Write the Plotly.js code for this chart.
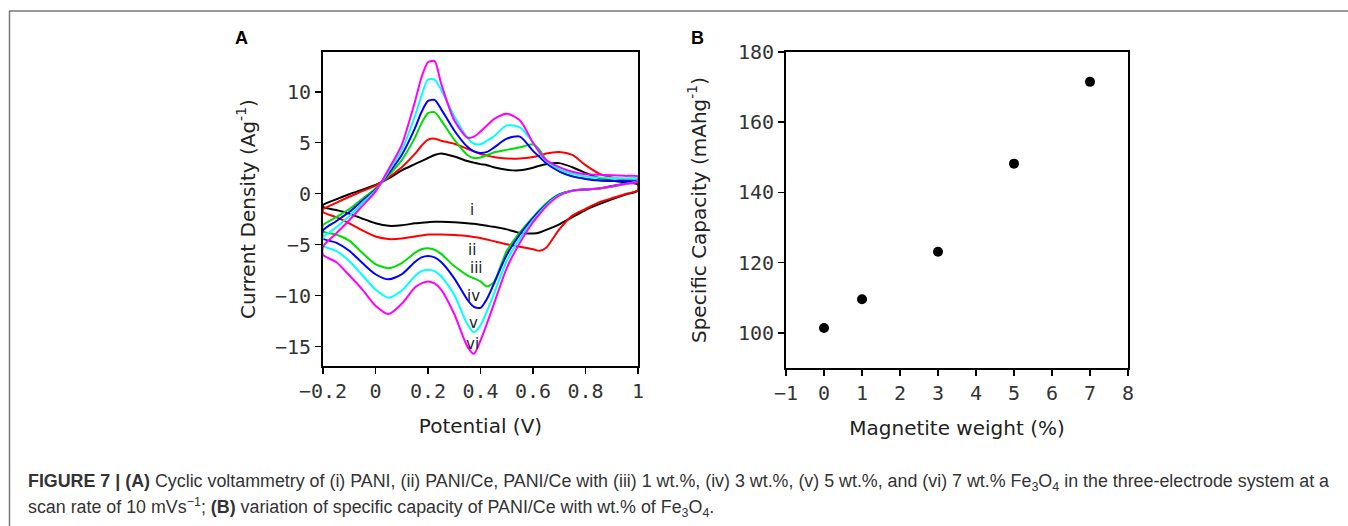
<!DOCTYPE html>
<html>
<head>
<meta charset="utf-8">
<script src="https://cdn.plot.ly/plotly-3.0.1.min.js"></script>
<style>html,body{margin:0;padding:0;background:#fff;}#chart{width:1348px;height:526px;}</style>
</head>
<body>
<div id="chart"></div>
<script>
// Potential grid (V) shared by the anodic (forward) and cathodic (reverse) sweeps
const potential = [-0.2,-0.15,-0.1,-0.05,0,0.05,0.1,0.15,0.175,0.2,0.225,0.25,0.3,0.35,0.375,0.4,0.425,0.45,0.5,0.55,0.6,0.625,0.65,0.7,0.75,0.8,0.85,0.9,0.95,1.0];

// Current density (A/g), anodic sweep
const anodic_i   = [-1.1,-0.55,-0.05,0.4,0.85,1.5,2.3,2.9,3.2,3.5,3.8,3.95,3.65,3.2,3.05,2.9,2.8,2.6,2.35,2.3,2.55,2.75,2.9,3.0,2.6,2.05,1.55,1.3,1.1,0.9];
const anodic_ii  = [-1.55,-0.9,-0.3,0.25,0.8,1.6,2.6,3.9,4.7,5.3,5.4,5.2,4.9,4.4,4.15,3.9,3.75,3.6,3.45,3.45,3.6,3.75,3.95,4.1,3.8,2.8,2.0,1.6,1.35,1.1];
const anodic_iii = [-3.1,-2.3,-1.5,-0.5,0.5,1.8,3.3,5.5,6.9,7.9,8.0,7.2,5.3,3.8,3.5,3.55,3.8,4.05,4.3,4.55,4.85,4.3,3.3,2.2,1.7,1.5,1.35,1.3,1.3,1.3];
const anodic_iv  = [-3.6,-2.7,-1.8,-0.7,0.4,2.0,3.8,6.4,8.0,9.1,9.2,8.3,6.2,4.6,4.15,4.0,4.1,4.5,5.4,5.6,4.2,3.6,3.0,2.2,1.7,1.45,1.3,1.25,1.25,1.25];
const anodic_v   = [-4.3,-3.3,-2.2,-0.9,0.3,2.2,4.3,7.6,9.6,11.2,11.2,10.2,7.6,5.5,4.9,4.85,5.2,5.6,6.7,6.5,5.0,3.95,3.2,2.4,1.95,1.7,1.6,1.55,1.5,1.5];
const anodic_vi  = [-5.2,-3.9,-2.6,-1.2,0.2,2.4,4.8,9.0,11.4,12.9,13.0,10.8,7.2,5.5,5.6,6.1,6.7,7.3,7.85,7.2,5.0,4.1,3.3,2.6,2.15,1.9,1.85,1.8,1.75,1.7];

// Current density (A/g), cathodic sweep (same potential grid)
const cathodic_i   = [-1.3,-1.6,-1.95,-2.45,-2.9,-3.15,-3.1,-2.9,-2.85,-2.8,-2.75,-2.75,-2.8,-2.9,-2.95,-3.05,-3.15,-3.25,-3.5,-3.85,-3.9,-3.8,-3.55,-3.0,-2.3,-1.6,-1.05,-0.55,-0.1,0.3];
const cathodic_ii  = [-1.8,-2.3,-2.9,-3.6,-4.2,-4.45,-4.4,-4.2,-4.1,-4.0,-4.0,-4.0,-4.05,-4.15,-4.25,-4.35,-4.5,-4.65,-4.95,-5.2,-5.45,-5.6,-5.3,-3.5,-2.15,-1.5,-0.85,-0.45,-0.05,0.35];
const cathodic_iii = [-3.7,-4.0,-4.6,-5.8,-6.9,-7.3,-6.8,-5.8,-5.45,-5.35,-5.5,-5.9,-7.1,-8.0,-8.3,-8.6,-9.1,-8.7,-5.6,-3.8,-2.3,-1.6,-0.95,-0.05,0.3,0.45,0.5,0.7,0.95,1.2];
const cathodic_iv  = [-4.4,-4.8,-5.6,-6.8,-7.9,-8.4,-7.9,-6.7,-6.25,-6.1,-6.25,-6.7,-8.3,-10.4,-11.1,-11.2,-10.3,-8.9,-6.0,-4.0,-2.4,-1.7,-1.05,-0.1,0.3,0.4,0.5,0.75,1.0,1.3];
const cathodic_v   = [-5.1,-5.6,-6.6,-8.0,-9.4,-10.2,-9.5,-8.1,-7.6,-7.45,-7.6,-8.1,-9.9,-12.8,-13.6,-12.9,-11.5,-9.9,-6.6,-4.4,-2.6,-1.85,-1.15,-0.15,0.3,0.4,0.5,0.7,0.95,1.25];
const cathodic_vi  = [-6.0,-6.7,-8.0,-9.4,-11.0,-11.8,-10.8,-9.2,-8.8,-8.6,-8.8,-9.4,-11.8,-15.0,-15.7,-14.4,-12.7,-10.9,-7.3,-4.8,-2.8,-2.0,-1.25,-0.2,0.3,0.4,0.5,0.7,0.95,1.2];

const curveLabels = ["i","ii","iii","iv","v","vi"];
const curveColors = ["#000000","#ff0000","#00dd00","#0000ff","#00ffff","#ff00ff"];
const labelX = [0.367,0.367,0.385,0.375,0.372,0.370];
const labelY = [-1.6,-5.5,-7.3,-10.0,-12.7,-14.7];

// Panel B
const magnetiteWeight = [0,1,3,5,7];
const specificCapacity = [101.4,109.6,123.1,148.2,171.5];

const anodic = [anodic_i,anodic_ii,anodic_iii,anodic_iv,anodic_v,anodic_vi];
const cathodic = [cathodic_i,cathodic_ii,cathodic_iii,cathodic_iv,cathodic_v,cathodic_vi];

const traces = [];
for (let k = 0; k < 6; k++) {
  const xs = potential.concat(potential.slice().reverse());
  const ys = anodic[k].concat(cathodic[k].slice().reverse());
  xs.push(potential[0]); ys.push(anodic[k][0]);
  traces.push({x: xs, y: ys, type: 'scatter', mode: 'lines', xaxis: 'x', yaxis: 'y',
    line: {color: curveColors[k], width: 2, shape: 'spline', smoothing: 0.7},
    showlegend: false, hoverinfo: 'skip'});
}
traces.push({x: magnetiteWeight, y: specificCapacity, type: 'scatter', mode: 'markers',
  xaxis: 'x2', yaxis: 'y2', marker: {color: '#000', size: 10}, showlegend: false});

const W = 1348, H = 526;
const px = v => v / W, py = v => 1 - v / H;

const tickFont = {family: 'DejaVu Sans Mono', size: 20, color: '#333'};
const titleFont = {family: 'DejaVu Sans', size: 20, color: '#222'};
const axisCommon = {showline: true, linecolor: '#000', linewidth: 2, mirror: true,
  ticks: 'outside', ticklen: 6, tickwidth: 1.5, tickcolor: '#000',
  showgrid: false, zeroline: false, tickfont: tickFont};

const annotations = [];
for (let k = 0; k < 6; k++) {
  annotations.push({x: labelX[k], y: labelY[k], xref: 'x', yref: 'y', text: curveLabels[k],
    showarrow: false, font: {family: 'DejaVu Sans', size: 15, color: '#222'}});
}
annotations.push({x: px(241), y: py(38), xref: 'paper', yref: 'paper', xanchor: 'center', yanchor: 'middle',
  text: '<b>A</b>', showarrow: false, font: {family: 'Liberation Sans', size: 18, color: '#000'}});
annotations.push({x: px(697), y: py(38), xref: 'paper', yref: 'paper', xanchor: 'center', yanchor: 'middle',
  text: '<b>B</b>', showarrow: false, font: {family: 'Liberation Sans', size: 18, color: '#000'}});
const capFont = {family: 'Liberation Sans', size: 17.85, color: '#333'};
annotations.push({x: px(26), y: py(482), xref: 'paper', yref: 'paper', xanchor: 'left', yanchor: 'middle',
  showarrow: false, font: capFont, align: 'left',
  text: '<b>FIGURE 7 | (A)</b> Cyclic voltammetry of (i) PANI, (ii) PANI/Ce, PANI/Ce with (iii) 1 wt.%, (iv) 3 wt.%, (v) 5 wt.%, and (vi) 7 wt.% Fe<sub>3</sub>O<sub>4</sub> in the three-electrode system at a'});
annotations.push({x: px(26), y: py(507), xref: 'paper', yref: 'paper', xanchor: 'left', yanchor: 'middle',
  showarrow: false, font: capFont, align: 'left',
  text: 'scan rate of 10 mVs<sup>−1</sup>; <b>(B)</b> variation of specific capacity of PANI/Ce with wt.% of Fe<sub>3</sub>O<sub>4</sub>.'});

const layout = {
  width: W, height: H, margin: {l: 0, r: 0, t: 0, b: 0},
  paper_bgcolor: '#fff', plot_bgcolor: '#fff', showlegend: false,
  xaxis: Object.assign({}, axisCommon, {domain: [px(323), px(638)], range: [-0.2, 1.0],
    tickvals: [-0.2,0,0.2,0.4,0.6,0.8,1.0], anchor: 'y',
    title: {text: 'Potential (V)', font: titleFont, standoff: 17}}),
  yaxis: Object.assign({}, axisCommon, {domain: [py(366), py(52)], range: [-16.9, 13.9],
    tickvals: [-15,-10,-5,0,5,10], anchor: 'x',
    title: {text: 'Current Density (Ag<sup>-1</sup>)', font: titleFont, standoff: 14}}),
  xaxis2: Object.assign({}, axisCommon, {domain: [px(786), px(1128)], range: [-1, 8],
    dtick: 1, tick0: 0, anchor: 'y2',
    title: {text: 'Magnetite weight (%)', font: titleFont, standoff: 17}}),
  yaxis2: Object.assign({}, axisCommon, {domain: [py(368), py(52)], range: [90, 180],
    tickvals: [100,120,140,160,180], anchor: 'x2',
    title: {text: 'Specific Capacity (mAhg<sup>-1</sup>)', font: titleFont, standoff: 26}}),
  annotations: annotations,
  shapes: [
    {type: 'line', xref: 'paper', yref: 'paper', x0: px(9), x1: 1, y0: py(11), y1: py(11), line: {color: '#777', width: 1.5}},
    {type: 'line', xref: 'paper', yref: 'paper', x0: px(9.5), x1: px(9.5), y0: py(11), y1: 0, line: {color: '#777', width: 1.5}}
  ]
};

Plotly.newPlot('chart', traces, layout, {staticPlot: true, displayModeBar: false});
</script>
</body>
</html>
